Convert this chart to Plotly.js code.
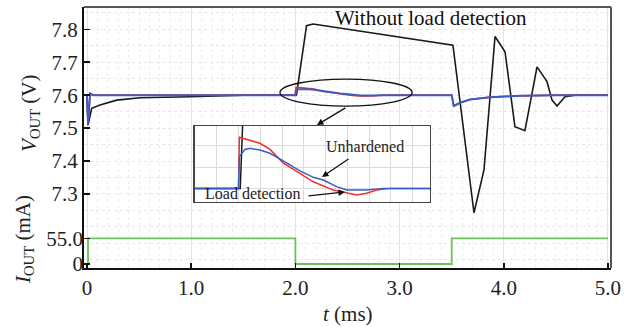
<!DOCTYPE html>
<html>
<head>
<meta charset="utf-8">
<script src="https://cdn.plot.ly/plotly-3.0.1.min.js"></script>
<style>html,body{margin:0;padding:0;background:#fff;}#chart{width:635px;height:327px;}</style>
</head>
<body>
<div id="chart"></div>
<script>
// ---- data (time in ms, voltage in V, current in mA) ----
var tBlack = [0, 0.01, 0.045, 0.125, 0.285, 0.51, 0.99, 1.5, 2.0, 2.01, 2.107, 2.17, 3.512, 3.714, 3.81, 3.916, 4.012, 4.107, 4.203, 4.319, 4.415, 4.463, 4.511, 4.587, 4.683, 5.0];
var vBlack = [7.6, 7.509, 7.56, 7.57, 7.585, 7.592, 7.595, 7.6, 7.6, 7.6, 7.811, 7.816, 7.752, 7.243, 7.373, 7.778, 7.732, 7.504, 7.492, 7.686, 7.641, 7.585, 7.567, 7.595, 7.6, 7.6];

var tBlue = [0, 0.01, 0.03, 0.06, 2.0, 2.005, 2.037, 2.066, 2.123, 2.181, 2.238, 2.296, 2.353, 2.401, 2.43, 2.487, 2.564, 2.622, 2.736, 2.832, 3.5, 3.52, 3.58, 3.676, 3.87, 4.16, 4.5, 5.0];
var vBlue = [7.6, 7.512, 7.605, 7.6, 7.6, 7.6149, 7.6183, 7.6188, 7.618, 7.6165, 7.6136, 7.611, 7.6082, 7.6063, 7.6052, 7.6039, 7.6008, 7.5992, 7.5992, 7.6, 7.6, 7.567, 7.577, 7.587, 7.594, 7.598, 7.6, 7.6];

var tRed = [0, 0.01, 0.03, 0.06, 2.0, 2.005, 2.037, 2.123, 2.181, 2.256, 2.334, 2.401, 2.43, 2.545, 2.622, 2.679, 2.736, 2.794, 2.87, 3.5, 3.52, 3.58, 3.676, 3.87, 4.16, 4.5, 5.0];
var vRed = [7.6, 7.512, 7.605, 7.6, 7.6, 7.624, 7.6232, 7.6212, 7.6183, 7.612, 7.608, 7.6048, 7.6031, 7.5992, 7.5977, 7.5969, 7.5977, 7.5992, 7.6, 7.6, 7.567, 7.577, 7.587, 7.594, 7.598, 7.6, 7.6];

var tCur = [0.01, 0.01, 2.0, 2.0, 3.5, 3.5, 5.0];
var iCur = [0, 55, 55, 0, 0, 55, 55];

var vTicks = [7.3, 7.4, 7.5, 7.6, 7.7, 7.8];
var vTickText = ['7.3', '7.4', '7.5', '7.6', '7.7', '7.8'];
var iTicks = [0, 55];
var iTickText = ['0', '55.0'];
var tTicks = [0, 1, 2, 3, 4, 5];
var tTickText = ['0', '1.0', '2.0', '3.0', '4.0', '5.0'];

var FONT = 'Liberation Serif, Times New Roman, serif';
var cBlack = '#1a1a1a', cBlue = '#3b5cc4', cRed = '#ee3030', cGreen = '#6cbf5c';

var traces = [
  {x: tBlack, y: vBlack, xaxis: 'x', yaxis: 'y', mode: 'lines', line: {color: cBlack, width: 1.6}},
  {x: tRed, y: vRed, xaxis: 'x', yaxis: 'y', mode: 'lines', line: {color: cRed, width: 1.6}},
  {x: tBlue, y: vBlue, xaxis: 'x', yaxis: 'y', mode: 'lines', line: {color: cBlue, width: 2}},
  {x: tCur, y: iCur, xaxis: 'x', yaxis: 'y2', mode: 'lines', line: {color: cGreen, width: 1.8}},
  // inset
  {x: tBlack, y: vBlack, xaxis: 'x2', yaxis: 'y3', mode: 'lines', line: {color: cBlack, width: 1.5}},
  {x: tRed, y: vRed, xaxis: 'x2', yaxis: 'y3', mode: 'lines', line: {color: cRed, width: 1.5}},
  {x: tBlue, y: vBlue, xaxis: 'x2', yaxis: 'y3', mode: 'lines', line: {color: cBlue, width: 1.5}}
];

var tickFont = {family: FONT, size: 21, color: '#222'};

var layout = {
  width: 635, height: 327,
  margin: {l: 84, r: 24, t: 7, b: 59},
  paper_bgcolor: '#fff', plot_bgcolor: '#fff',
  showlegend: false,
  xaxis: {
    range: [-0.0288, 5.029], tickmode: 'array', tickvals: tTicks, ticktext: tTickText,
    ticks: 'inside', ticklen: 5, tickwidth: 1.5, tickcolor: '#111',
    showline: true, linecolor: '#111', linewidth: 2, zeroline: false,
    showgrid: true, gridcolor: '#e4e4e4', gridwidth: 1,
    minor: {dtick: 0.1, tick0: 0, showgrid: true, gridcolor: '#ededed', griddash: 'dot', ticklen: 0},
    tickfont: tickFont
  },
  yaxis: {
    range: [7.0753, 7.8677], tickmode: 'array', tickvals: vTicks, ticktext: vTickText,
    ticks: 'inside', ticklen: 6, tickwidth: 1.5, tickcolor: '#111',
    showline: true, linecolor: '#111', linewidth: 2, zeroline: false,
    showgrid: false,
    minor: {dtick: 0.05, tick0: 7.3, showgrid: true, gridcolor: '#e8e8e8', griddash: 'dot', ticklen: 0},
    tickfont: tickFont
  },
  yaxis2: {
    overlaying: 'y', side: 'left', range: [-8.56, 550],
    tickmode: 'array', tickvals: iTicks, ticktext: iTickText,
    ticks: 'inside', ticklen: 6, tickwidth: 1.5, tickcolor: '#111',
    showline: false, showgrid: false, zeroline: false, tickfont: tickFont
  },
  xaxis2: {
    domain: [0.2106, 0.6565], anchor: 'y3', range: [1.75, 3.1],
    showticklabels: false, ticks: '', showline: true, mirror: true, linecolor: '#444', linewidth: 1.5,
    showgrid: true, gridcolor: '#dcdcdc', tick0: 1.75, dtick: 0.125, zeroline: false
  },
  yaxis3: {
    domain: [0.2529, 0.544], anchor: 'x2', range: [7.5936, 7.6293],
    showticklabels: false, ticks: '', showline: true, mirror: true, linecolor: '#444', linewidth: 1.5,
    showgrid: true, gridcolor: '#dcdcdc', tick0: 7.6, dtick: 0.01, zeroline: false
  },
  shapes: [
    {type: 'line', xref: 'paper', yref: 'paper', x0: 0, x1: 1, y0: 1, y1: 1, line: {color: '#555', width: 2}},
    {type: 'line', xref: 'paper', yref: 'paper', x0: 1, x1: 1, y0: 0, y1: 1, line: {color: '#555', width: 2}},
    {type: 'circle', xref: 'x', yref: 'y', x0: 1.852, x1: 3.12, y0: 7.567, y1: 7.649, line: {color: '#111', width: 1.3}}
  ],
  annotations: [
    {xref: 'paper', yref: 'paper', x: 0.658, y: 0.958, text: 'Without load detection', showarrow: false,
     font: {family: FONT, size: 21, color: '#111'}, xanchor: 'center', yanchor: 'middle'},
    {xref: 'paper', yref: 'paper', x: 0.5, y: -0.176, text: '<i>t</i> (ms)', showarrow: false,
     font: {family: FONT, size: 21, color: '#222'}, xanchor: 'center', yanchor: 'middle'},
    {xref: 'paper', yref: 'paper', x: -0.1025, y: 0.594, text: '<i>V</i><sub>OUT</sub> (V)', showarrow: false, textangle: -90,
     font: {family: FONT, size: 21, color: '#222'}, xanchor: 'center', yanchor: 'middle'},
    {xref: 'paper', yref: 'paper', x: -0.1139, y: 0.111, text: '<i>I</i><sub>OUT</sub> (mA)', showarrow: false, textangle: -90,
     font: {family: FONT, size: 21, color: '#222'}, xanchor: 'center', yanchor: 'middle'},
    {xref: 'x', yref: 'y', x: 2.207, y: 7.5095, ax: 30, ay: -18, text: '', showarrow: true,
     arrowhead: 2, arrowsize: 1, arrowwidth: 1.3, arrowcolor: '#111'},
    {xref: 'x', yref: 'y', x: 2.255, y: 7.3516, ax: 28, ay: -19, text: '', showarrow: true,
     arrowhead: 2, arrowsize: 1, arrowwidth: 1.3, arrowcolor: '#111'},
    {xref: 'x', yref: 'y', x: 2.476, y: 7.306, ax: -38, ay: 4, text: '', showarrow: true,
     arrowhead: 2, arrowsize: 1, arrowwidth: 1.3, arrowcolor: '#111'},
    {xref: 'x', yref: 'y', x: 2.668, y: 7.4427, text: 'Unhardened', showarrow: false,
     font: {family: FONT, size: 16, color: '#222'}, xanchor: 'center', yanchor: 'middle'},
    {xref: 'x', yref: 'y', x: 1.593, y: 7.30, text: 'Load detection', showarrow: false,
     font: {family: FONT, size: 16, color: '#222'}, xanchor: 'center', yanchor: 'middle'}
  ]
};

Plotly.newPlot('chart', traces, layout, {displayModeBar: false, staticPlot: true});
</script>
</body>
</html>
